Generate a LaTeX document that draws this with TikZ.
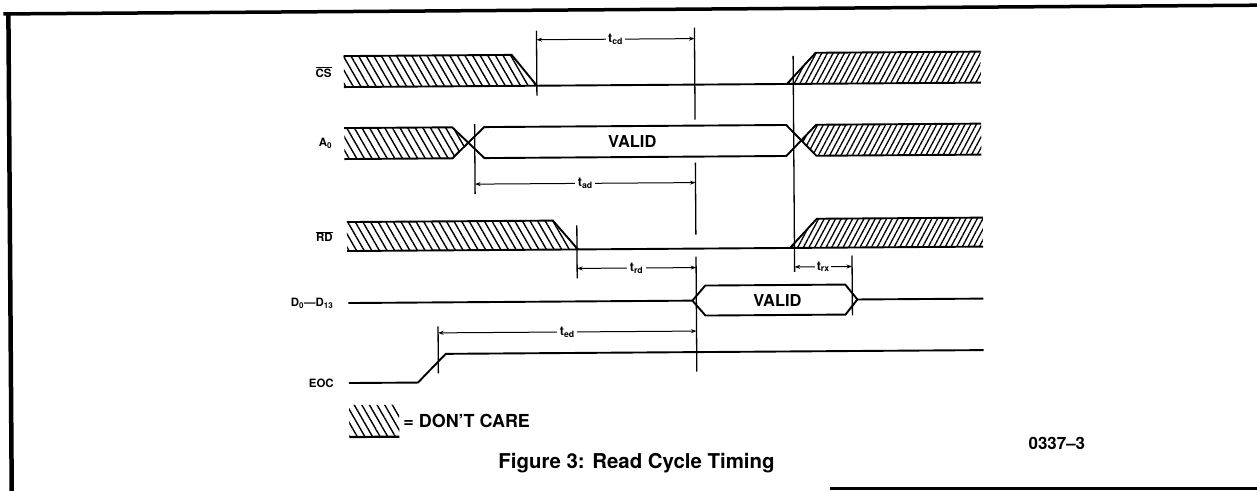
\documentclass[tikz,border=0pt]{standalone}
\usepackage{fontspec}
\setmainfont{TeX Gyre Heros}
\usetikzlibrary{patterns.meta,arrows.meta}
\tikzset{
  wave/.style={line width=1.9bp, line join=miter},
  hatchL/.style={pattern={Lines[angle=-60,distance=6.6bp,line width=1.4bp]}},
  hatchR/.style={pattern={Lines[angle=62,distance=5bp,line width=1.3bp]}},
  tickline/.style={line width=1.3bp},
  dimline/.style={line width=1bp, {Stealth[length=5.5bp,width=4bp]}-{Stealth[length=5.5bp,width=4bp]}},
  dimlbl/.style={fill=white, inner sep=2.5bp, font=\fontsize{12.5}{12.5}\selectfont\bfseries},
  sig/.style={anchor=east, inner sep=0pt, font=\fontsize{11.5}{12}\selectfont\bfseries},
  validlbl/.style={font=\fontsize{16.5}{17}\selectfont\bfseries, inner sep=0pt},
  borderline/.style={line width=3.5bp}
}
\begin{document}
\begin{tikzpicture}[x=1bp,y=-1bp]
\useasboundingbox (0,0) rectangle (1257,491);
\fill[white] (0,0) rectangle (1257,491);
\draw[borderline] (830,488.5) -- (1257,488.5);
\begin{scope}[rotate around={0.4:(640,245)}]
% border
\draw[borderline] (5,9.5) -- (1262,9.5);
\draw[line width=4.5bp] (10,8) -- (10,500);
% signal labels
\node[sig] (lcs) at (333,70) {$\overline{\mbox{CS}}$};
\node[sig] (la0) at (333,141.5) {A\textsubscript{0}};
\node[sig] (lrd) at (333,234.5) {$\overline{\mbox{RD}}$};
\node[sig] (ld) at (333,301) {D\textsubscript{0}---D\textsubscript{13}};
\node[sig] (leoc) at (333,381) {EOC};
% CS
\fill[hatchL] (345,54) -- (513,54) -- (538,85) -- (345,85) -- cycle;
\fill[hatchR] (788,85) -- (817,54) -- (982,54) -- (982,85) -- cycle;
\draw[wave] (345,54) -- (513,54) -- (538,85);
\draw[wave] (345,85) -- (982,85);
\draw[wave] (788,85) -- (817,54) -- (982,54);
% A0
\fill[hatchL] (345,126) -- (453,126) -- (469,141.5) -- (453,157) -- (345,157) -- cycle;
\fill[hatchR] (802,141.5) -- (817,126) -- (982,126) -- (982,157) -- (817,157) -- cycle;
\draw[wave] (345,126) -- (453,126) -- (485,157) -- (787,157) -- (817,126) -- (982,126);
\draw[wave] (345,157) -- (453,157) -- (485,126) -- (787,126) -- (817,157) -- (982,157);
\node[validlbl] (va) at (633,141.5) {VALID};
% RD
\fill[hatchL] (347,220) -- (553,220) -- (578,249) -- (347,249) -- cycle;
\fill[hatchR] (790,249) -- (817,220) -- (983,220) -- (983,249) -- cycle;
\draw[wave] (347,220) -- (553,220) -- (578,249);
\draw[wave] (347,249) -- (983,249);
\draw[wave] (790,249) -- (817,220) -- (983,220);
% D
\draw[wave] (348,301) -- (692,301) -- (705,286) -- (845,286) -- (857,301) -- (983,301);
\draw[wave] (692,301) -- (705,316) -- (845,316) -- (857,301);
\node[validlbl] (vd) at (777,301) {VALID};
% EOC
\draw[wave] (348,381) -- (417,381) -- (445,352.5) -- (983,352.5);
% tick lines
\coordinate (k1t) at (538,30);   \coordinate (k1b) at (538,95);
\coordinate (k2t) at (696,28);   \coordinate (k2b) at (696,120);
\coordinate (k3t) at (696,163);  \coordinate (k3b) at (696,235);
\coordinate (k4t) at (696,257);  \coordinate (k4b) at (696,372);
\coordinate (k5t) at (475.5,123);\coordinate (k5b) at (475.5,193);
\coordinate (k6t) at (577,225);  \coordinate (k6b) at (577,278);
\coordinate (k7t) at (794.5,57); \coordinate (k7b) at (794.5,273);
\coordinate (k8t) at (852,257);  \coordinate (k8b) at (852,317);
\coordinate (k9t) at (437.5,325);\coordinate (k9b) at (437.5,372);
\foreach \k in {1,...,9} {\draw[tickline] (k\k t) -- (k\k b);}
% dimension arrows
\coordinate (tcdL) at (538,39);   \coordinate (tcdR) at (696,39);
\coordinate (tadL) at (475.5,183);\coordinate (tadR) at (696,183);
\coordinate (trdL) at (577,268);  \coordinate (trdR) at (696,268);
\coordinate (trxL) at (794.5,268);\coordinate (trxR) at (852,268);
\coordinate (tedL) at (437.5,331.5);\coordinate (tedR) at (696,331.5);
\draw[dimline] (tcdL) -- (tcdR) node[midway,dimlbl] (ltcd) {t\textsubscript{cd}};
\draw[dimline] (tadL) -- (tadR) node[midway,dimlbl] (ltad) {t\textsubscript{ad}};
\draw[dimline] (trdL) -- (trdR) node[midway,dimlbl] (ltrd) {t\textsubscript{rd}};
\draw[dimline] (trxL) -- (trxR) node[midway,dimlbl,inner xsep=1.5bp] (ltrx) {t\textsubscript{rx}};
\draw[dimline] (tedL) -- (tedR) node[midway,dimlbl] (lted) {t\textsubscript{ed}};
% legend
\fill[hatchL] (348,403) rectangle (398,435);
\draw[line width=2.2bp] (348,435) -- (398,435);
\node[anchor=west, inner sep=0pt, font=\fontsize{18}{18}\selectfont\bfseries] (dc) at (402,419) {= DON'T CARE};
% title and code
\node[inner sep=0pt, font=\fontsize{20.5}{21}\selectfont\bfseries] (title) at (635,463) {Figure 3: Read Cycle Timing};
\node[anchor=west, inner sep=0pt, font=\fontsize{17}{17}\selectfont\bfseries] (code) at (1027,446) {0337--3};
\end{scope}
\end{tikzpicture}
\end{document}
